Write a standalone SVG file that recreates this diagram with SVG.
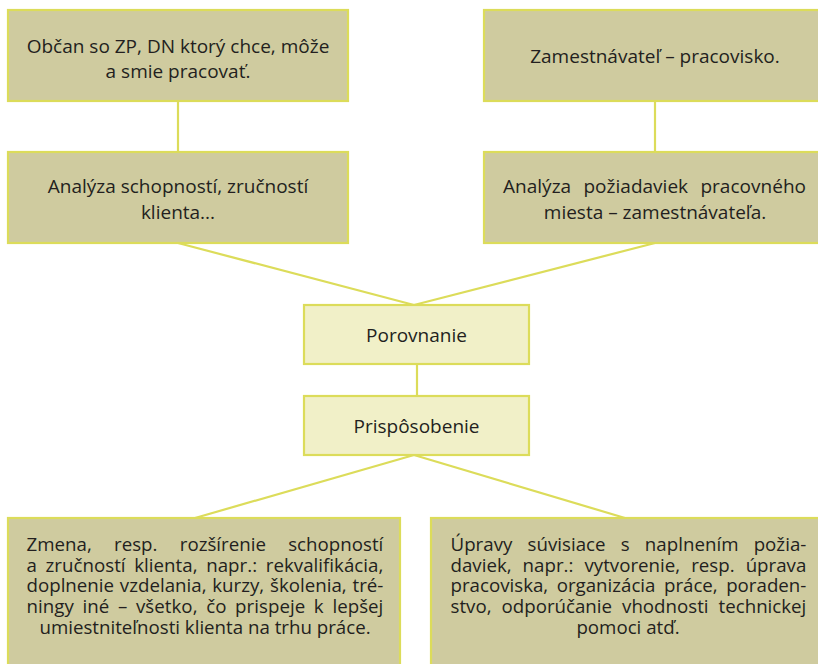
<svg xmlns="http://www.w3.org/2000/svg" width="818" height="664" viewBox="0 0 818 664">
<style>
.dark{fill:#cfcb9f;stroke:#dcdc5a;stroke-width:2.2}
.light{fill:#f1f0c8;stroke:#dcdc5a;stroke-width:2.2}
.t{font-family:"Open Sans","Noto Sans",sans-serif;font-size:19px;fill:#231f20}
.b{font-family:"Open Sans","Noto Sans",sans-serif;font-size:18.7px;fill:#231f20}
.c{text-anchor:middle}
.conn line{stroke:#dcdc5a;stroke-width:2.2;fill:none}
</style>
<rect width="818" height="664" fill="#ffffff"/>
<g class="conn" id="connectors">
<line x1="178" y1="101" x2="178" y2="152"/>
<line x1="655" y1="101" x2="655" y2="152"/>
<line x1="178" y1="243" x2="414" y2="305"/>
<line x1="655" y1="243" x2="414" y2="305"/>
<line x1="417" y1="364" x2="417" y2="396"/>
<line x1="414" y1="455" x2="195" y2="518"/>
<line x1="414" y1="455" x2="625" y2="518"/>
</g>
<g id="n1">
<rect class="dark" x="8" y="10" width="340" height="91"/>
<text class="t c" x="178" y="52.5">Občan so ZP, DN ktorý chce, môže</text>
<text class="t c" x="178" y="78">a smie pracovať.</text>
</g>
<g id="n2">
<rect class="dark" x="484" y="10" width="344" height="91"/>
<text class="t c" x="655" y="63">Zamestnávateľ – pracovisko.</text>
</g>
<g id="n3">
<rect class="dark" x="8" y="152" width="340" height="91"/>
<text class="t c" x="178" y="193">Analýza schopností, zručností</text>
<text class="t c" x="178" y="218.5">klienta...</text>
</g>
<g id="n4">
<rect class="dark" x="484" y="152" width="344" height="91"/>
<text class="t" x="503" y="193" word-spacing="7.4" textLength="303" lengthAdjust="spacing">Analýza požiadaviek pracovného</text>
<text class="t c" x="655" y="218.5">miesta – zamestnávateľa.</text>
</g>
<g id="n5">
<rect class="light" x="304" y="305" width="225" height="59"/>
<text class="t c" x="416.5" y="341.5">Porovnanie</text>
</g>
<g id="n6">
<rect class="light" x="304" y="396" width="225" height="59"/>
<text class="t c" x="416.5" y="433">Prispôsobenie</text>
</g>
<g id="n7">
<rect class="dark" x="8" y="518" width="392" height="160"/>
<text class="b" x="26.5" y="551" word-spacing="17.4" textLength="356.8" lengthAdjust="spacing">Zmena, resp. rozšírenie schopností</text>
<text class="b" x="26.5" y="571.7" word-spacing="3.8" textLength="356.8" lengthAdjust="spacing">a zručností klienta, napr.: rekvalifikácia,</text>
<text class="b" x="26.5" y="592.3" word-spacing="0.9" textLength="356.8" lengthAdjust="spacing">doplnenie vzdelania, kurzy, školenia, tré-</text>
<text class="b" x="26.5" y="613" word-spacing="3.8" textLength="356.8" lengthAdjust="spacing">ningy iné – všetko, čo prispeje k lepšej</text>
<text class="b c" x="205" y="634">umiestniteľnosti klienta na trhu práce.</text>
</g>
<g id="n8">
<rect class="dark" x="431" y="518" width="400" height="160"/>
<text class="b" x="450.5" y="551" word-spacing="10.3" textLength="355.8" lengthAdjust="spacing">Úpravy súvisiace s naplnením požia-</text>
<text class="b" x="450.5" y="571.7" word-spacing="6.2" textLength="355.8" lengthAdjust="spacing">daviek, napr.: vytvorenie, resp. úprava</text>
<text class="b" x="450.5" y="592.3" word-spacing="3.6" textLength="355.8" lengthAdjust="spacing">pracoviska, organizácia práce, poraden-</text>
<text class="b" x="450.5" y="613" word-spacing="5.2" textLength="355.8" lengthAdjust="spacing">stvo, odporúčanie vhodnosti technickej</text>
<text class="b c" x="628" y="634">pomoci atď.</text>
</g>
</svg>
